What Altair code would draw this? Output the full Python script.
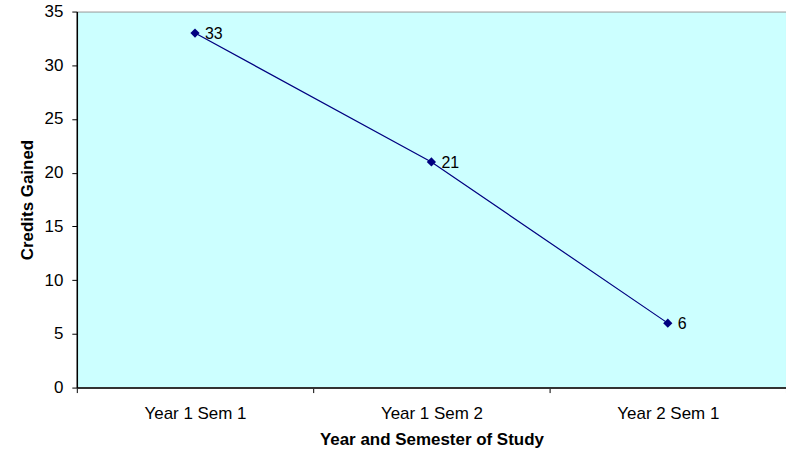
import altair as alt
import pandas as pd

categories = ["Year 1 Sem 1", "Year 1 Sem 2", "Year 2 Sem 1"]
credits = [33, 21, 6]

df = pd.DataFrame({"period": categories, "credits": credits})

FONT = "Liberation Sans"

x_enc = alt.X(
    "period:N",
    sort=categories,
    scale=alt.Scale(paddingInner=0, paddingOuter=0),
    axis=alt.Axis(
        title="Year and Semester of Study",
        labelAngle=0,
        tickBand="extent",
        domainColor="#333333",
        domainWidth=2,
        tickColor="#000000",
        tickSize=5,
        labelPadding=13,
        labelFontSize=17,
        labelFont=FONT,
        labelColor="#000000",
        titleFont=FONT,
        titleFontSize=17,
        titleFontWeight="bold",
        titleColor="#000000",
        titlePadding=10,
        grid=False,
    ),
)
y_enc = alt.Y(
    "credits:Q",
    scale=alt.Scale(domain=[0, 35], nice=False),
    axis=alt.Axis(
        title="Credits Gained",
        values=[0, 5, 10, 15, 20, 25, 30, 35],
        domainColor="#000000",
        domainWidth=1.5,
        tickColor="#000000",
        tickSize=5,
        labelPadding=9,
        labelFontSize=17,
        labelFont=FONT,
        labelColor="#000000",
        titleFont=FONT,
        titleFontSize=17,
        titleFontWeight="bold",
        titleColor="#000000",
        titlePadding=8,
        grid=False,
    ),
)

base = alt.Chart(df).encode(x=x_enc, y=y_enc)

line = base.mark_line(color="#000080", strokeWidth=1.2)
pts = base.mark_point(shape="diamond", filled=True, color="#000080", size=85, opacity=1)
labels = base.mark_text(
    align="left", dx=10, dy=1, fontSize=16, font=FONT, color="#000000"
).encode(text="credits:Q")

chart = (
    alt.layer(line, pts, labels)
    .properties(
        width=711,
        height=377,
        background="#ffffff",
        padding={"left": 77, "top": 11, "right": 0, "bottom": 66},
        autosize=alt.AutoSizeParams(type="none"),
    )
    .configure_view(fill="#CCFFFF", stroke="#999999", strokeWidth=1)
)

chart.save("out.html", embed_options={"renderer": "svg", "actions": False})
